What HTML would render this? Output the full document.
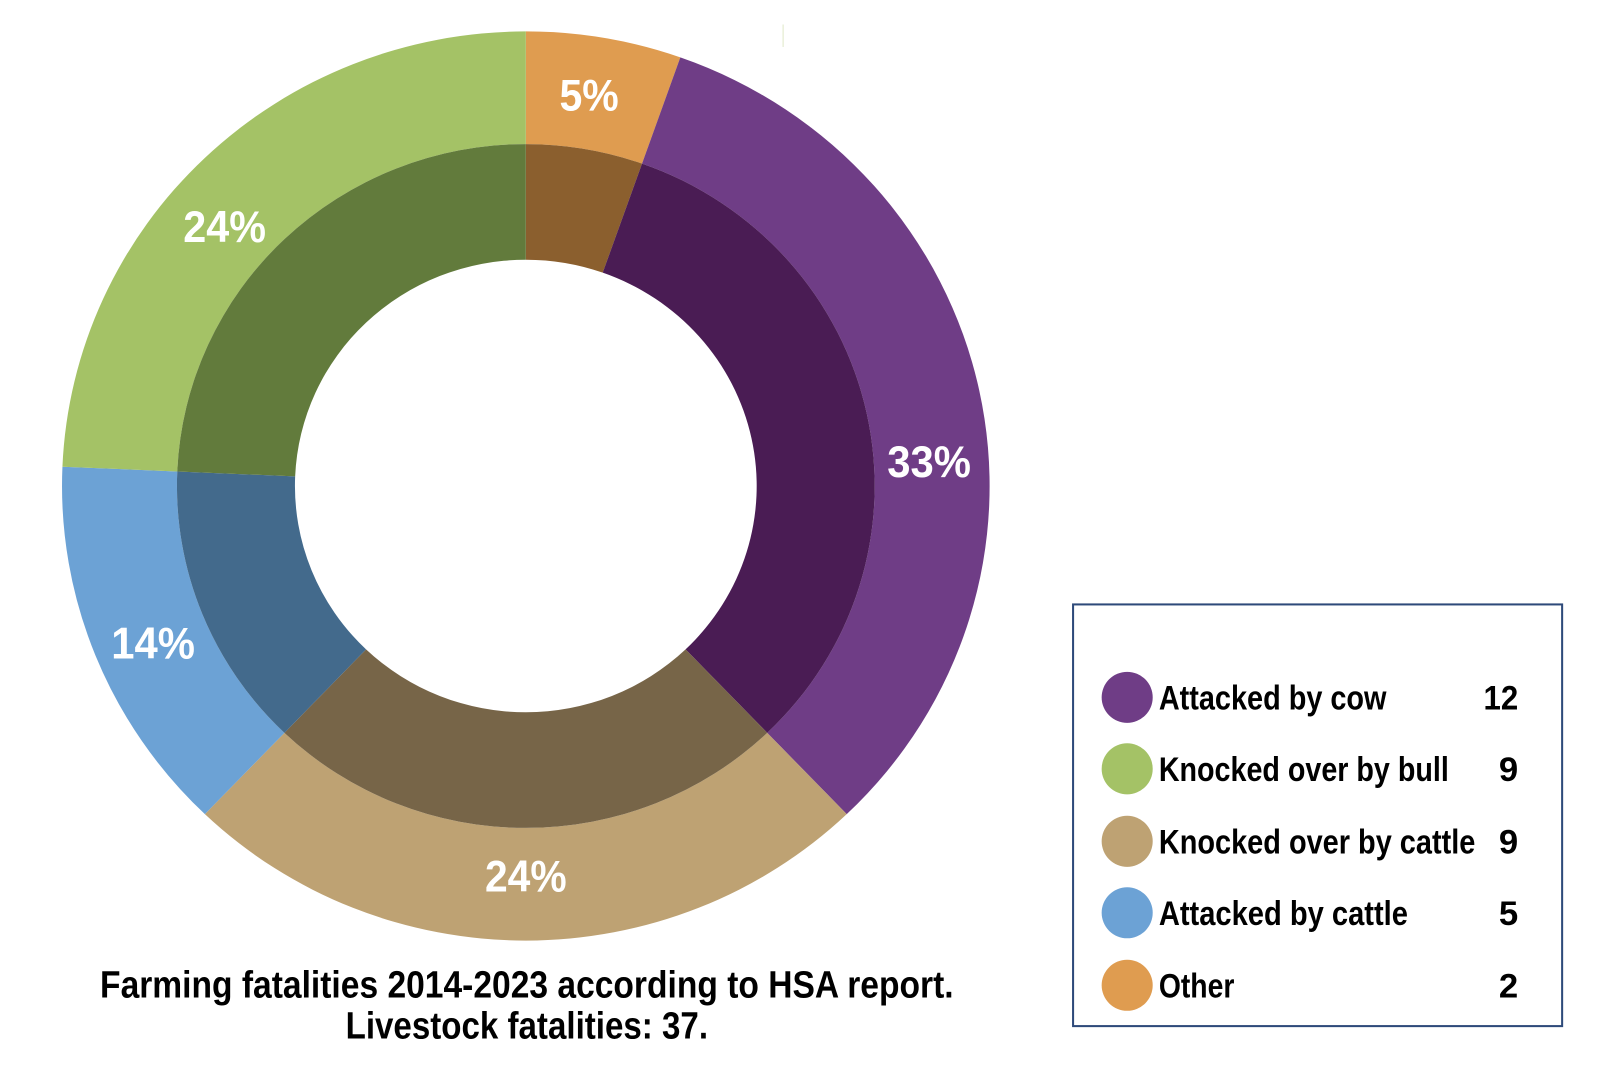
<!DOCTYPE html>
<html><head><meta charset="utf-8"><style>
html,body{margin:0;padding:0;background:#fff;width:1600px;height:1065px;overflow:hidden}
svg{display:block}
text{font-family:"Liberation Sans Narrow","Liberation Sans",sans-serif;font-weight:bold}
</style></head><body>
<svg id="s" width="1600" height="1065" viewBox="0 0 1600 1065">
<g transform="scale(1.021)">
<line x1="767" y1="24" x2="767" y2="46" stroke="#dfe8c8" stroke-width="1"/>
<g id="ring" transform="translate(515,476) scale(1.005,0.985) translate(-515,-476)"></g>
<g fill="#fff" font-size="44" text-anchor="middle">
<text x="577" y="108" textLength="58" lengthAdjust="spacingAndGlyphs">5%</text>
<text x="910" y="467" textLength="82" lengthAdjust="spacingAndGlyphs">33%</text>
<text x="515" y="873" textLength="80" lengthAdjust="spacingAndGlyphs">24%</text>
<text x="150" y="645" textLength="82" lengthAdjust="spacingAndGlyphs">14%</text>
<text x="220" y="237" textLength="81" lengthAdjust="spacingAndGlyphs">24%</text>
</g>
<g fill="#000" font-size="37" text-anchor="middle">
<text x="516" y="977" textLength="836" lengthAdjust="spacingAndGlyphs">Farming fatalities 2014-2023 according to HSA report.</text>
<text x="516" y="1017" textLength="355" lengthAdjust="spacingAndGlyphs">Livestock fatalities: 37.</text>
</g>
<rect x="1051" y="592" width="479" height="413" fill="#fff" stroke="#2e4a7a" stroke-width="2"/>
<g font-size="34" fill="#000">
<circle cx="1104" cy="683" r="25" fill="#6f3d86"/><text x="1135" y="695" textLength="223" lengthAdjust="spacingAndGlyphs">Attacked by cow</text><text x="1487" y="695" text-anchor="end" textLength="34" lengthAdjust="spacingAndGlyphs">12</text>
<circle cx="1104" cy="753" r="25" fill="#a4c266"/><text x="1135" y="765" textLength="284" lengthAdjust="spacingAndGlyphs">Knocked over by bull</text><text x="1487" y="765" text-anchor="end">9</text>
<circle cx="1104" cy="824" r="25" fill="#bea273"/><text x="1135" y="836" textLength="310" lengthAdjust="spacingAndGlyphs">Knocked over by cattle</text><text x="1487" y="836" text-anchor="end">9</text>
<circle cx="1104" cy="894" r="25" fill="#6ca2d5"/><text x="1135" y="906" textLength="244" lengthAdjust="spacingAndGlyphs">Attacked by cattle</text><text x="1487" y="906" text-anchor="end">5</text>
<circle cx="1104" cy="965" r="25" fill="#df9c50"/><text x="1135" y="977" textLength="74" lengthAdjust="spacingAndGlyphs">Other</text><text x="1487" y="977" text-anchor="end">2</text>
</g>
</g>
</svg>
<script>
(function(){
var cx=515,cy=476,R=452,M=340,r=225;
var segs=[[2,"#df9c50","#8b5f2e"],[12,"#6f3d86","#4a1c54"],[9,"#bea273","#776548"],[5,"#6ca2d5","#436a8c"],[9,"#a4c266","#627b3c"]];
function pt(rad,a){var t=a*Math.PI/180;return [cx+rad*Math.sin(t),cy-rad*Math.cos(t)];}
function arc(r1,r2,a0,a1,col){
 var l=(a1-a0)>180?1:0,p0=pt(r2,a0),p1=pt(r2,a1),q1=pt(r1,a1),q0=pt(r1,a0);
 return '<path fill="'+col+'" d="M'+p0+' A'+r2+','+r2+' 0 '+l+' 1 '+p1+' L'+q1+' A'+r1+','+r1+' 0 '+l+' 0 '+q0+' Z"/>';
}
var h="",a=0;
segs.forEach(function(s){var b=a+s[0]/37*360;h+=arc(M,R,a,b,s[1])+arc(r,M,a,b,s[2]);a=b;});
document.getElementById("ring").innerHTML=h;
})();
</script>
</body></html>
